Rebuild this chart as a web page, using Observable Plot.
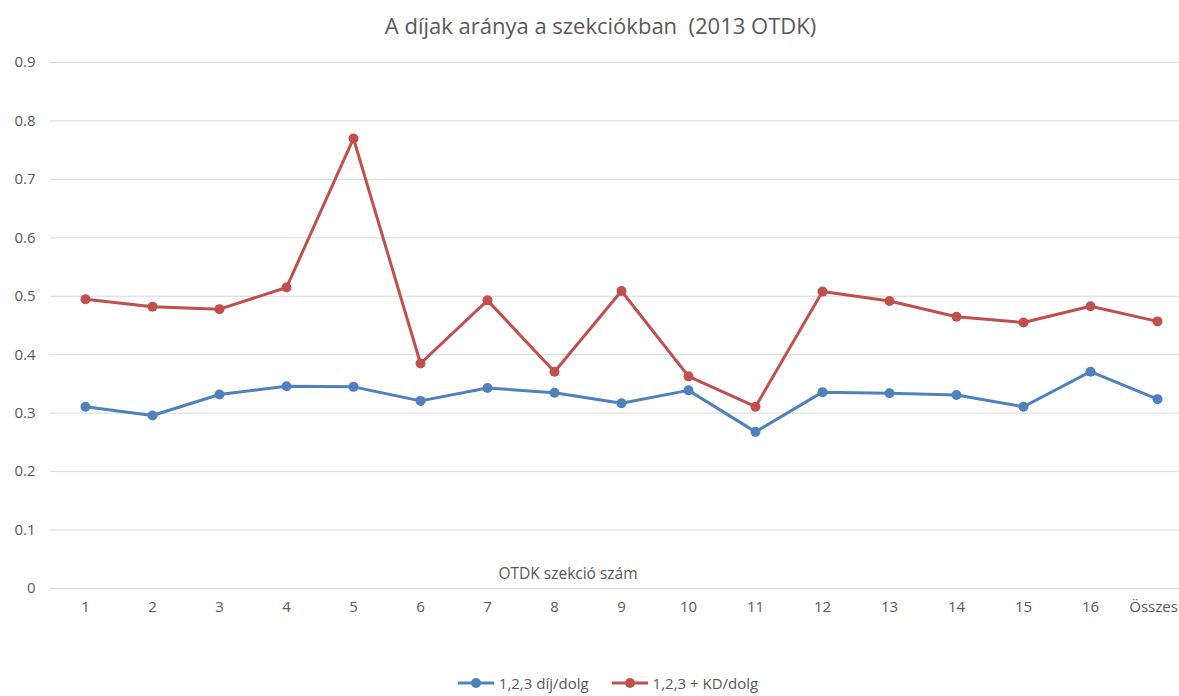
<!DOCTYPE html>
<html>
<head>
<meta charset="utf-8">
<script src="https://cdn.jsdelivr.net/npm/d3@7"></script>
<script src="https://cdn.jsdelivr.net/npm/@observablehq/plot@0.6"></script>
<style>
  html, body { margin: 0; padding: 0; background: #fff; }
  body { width: 1179px; height: 696px; overflow: hidden; font-family: "Open Sans", sans-serif; color: #595959; }
  #title { height: 48px; line-height: 50px; text-align: center; font-size: 22px; color: #595959; padding-left: 22px; }
  #legend { display: flex; justify-content: center; align-items: center; gap: 22px; font-size: 15px; color: #595959; margin-top: 25px; padding-left: 36px; }
  .item { display: flex; align-items: center; gap: 4px; }
</style>
</head>
<body>
<div id="title">A díjak aránya a szekciókban&nbsp; (2013 OTDK)</div>
<div id="chart"></div>
<div id="legend"></div>
<script>
const categories = ["1","2","3","4","5","6","7","8","9","10","11","12","13","14","15","16","Összes"];
const seriesNames = ["1,2,3 díj/dolg", "1,2,3 + KD/dolg"];
const seriesColors = ["#4f81bd", "#c0504d"];
const dijValues = [0.311, 0.296, 0.332, 0.346, 0.345, 0.321, 0.343, 0.335, 0.317, 0.339, 0.268, 0.336, 0.334, 0.331, 0.311, 0.371, 0.324];
const kdValues  = [0.495, 0.482, 0.478, 0.515, 0.770, 0.385, 0.493, 0.371, 0.509, 0.363, 0.311, 0.508, 0.492, 0.465, 0.455, 0.483, 0.457];
const yTicks = [0, 0.1, 0.2, 0.3, 0.4, 0.5, 0.6, 0.7, 0.8, 0.9];
const xAxisLabel = "OTDK szekció szám";

const data = [];
categories.forEach((c, i) => {
  data.push({cat: c, value: dijValues[i], series: seriesNames[0]});
  data.push({cat: c, value: kdValues[i], series: seriesNames[1]});
});

const plot = Plot.plot({
  width: 1179,
  height: 600,
  marginTop: 14,
  marginBottom: 60,
  marginLeft: 50,
  marginRight: 0,
  style: {fontFamily: "Open Sans, sans-serif", fontSize: "15px", color: "#595959", background: "white", overflow: "hidden"},
  x: {type: "point", domain: categories, range: [50, 1191], padding: 0.5},
  y: {domain: [0, 0.9]},
  color: {domain: seriesNames, range: seriesColors},
  marks: [
    Plot.gridY(yTicks, {stroke: "#d9d9d9", strokeOpacity: 1, strokeWidth: 1}),
    Plot.axisY(yTicks, {tickSize: 0, tickPadding: 15, label: null, fill: "#595959", tickFormat: d => String(d), fontSize: 15}),
    Plot.axisX(categories.slice(0, -1), {tickSize: 0, tickPadding: 13, label: null, fill: "#595959", fontSize: 15}),
    Plot.axisX(categories.slice(-1), {tickSize: 0, tickPadding: 13, label: null, fill: "#595959", fontSize: 15, dx: -4}),
    Plot.text([xAxisLabel], {frameAnchor: "bottom", text: d => d, dx: -47, dy: -10, fill: "#595959", fontSize: 15.5}),
    Plot.line(data, {x: "cat", y: "value", z: "series", stroke: "series", strokeWidth: 3, strokeLinejoin: "round"}),
    Plot.dot(data, {x: "cat", y: "value", fill: "series", r: 5, stroke: "none"})
  ]
});
document.getElementById("chart").appendChild(plot);

const legend = document.getElementById("legend");
seriesNames.forEach((name, i) => {
  const item = document.createElement("div");
  item.className = "item";
  item.innerHTML = `<svg width="38" height="12"><line x1="1" y1="6" x2="37" y2="6" stroke="${seriesColors[i]}" stroke-width="3"/><circle cx="19" cy="6" r="5" fill="${seriesColors[i]}"/></svg><span>${name}</span>`;
  legend.appendChild(item);
});
</script>
</body>
</html>
